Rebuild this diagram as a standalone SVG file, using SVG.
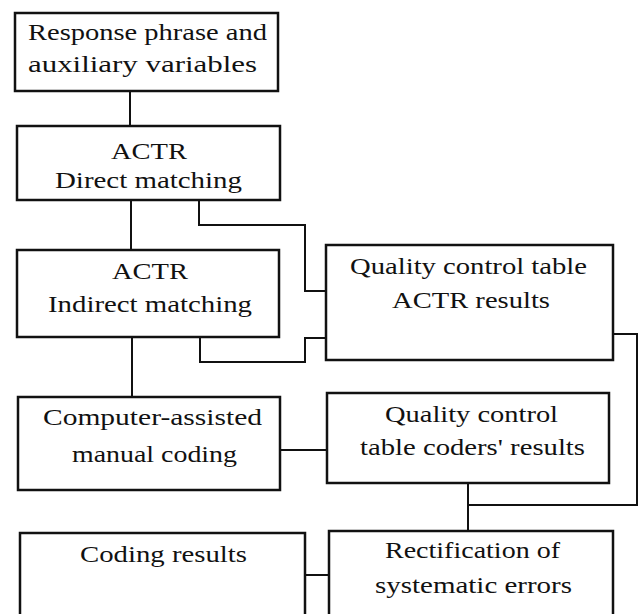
<svg xmlns="http://www.w3.org/2000/svg" width="639" height="614" viewBox="0 0 639 614">
<style>
.box{fill:#fff;stroke:#111;stroke-width:2.5}
.ln{fill:none;stroke:#111;stroke-width:2}
text{font-family:"Liberation Serif","Times New Roman",serif;font-size:24px;fill:#111;text-anchor:middle}
</style>
<rect width="639" height="614" fill="#fff"/>
<g id="connectors">
<path class="ln" d="M130 91V126"/>
<path class="ln" d="M131 200V250"/>
<path class="ln" d="M199 200V225H305V291H326"/>
<path class="ln" d="M200 337V362H305V338H326"/>
<path class="ln" d="M613 334H637V505H468"/>
<path class="ln" d="M132 337V397"/>
<path class="ln" d="M280 450H327"/>
<path class="ln" d="M468 483V531"/>
<path class="ln" d="M305 575H329"/>
</g>
<g id="n1"><rect class="box" x="15" y="13" width="263" height="78"/>
<text x="147.5" y="40" textLength="239" lengthAdjust="spacingAndGlyphs">Response phrase and</text>
<text x="142.5" y="72" textLength="229" lengthAdjust="spacingAndGlyphs">auxiliary variables</text></g>
<g id="n2"><rect class="box" x="17" y="126" width="263" height="74"/>
<text x="149" y="159" textLength="76" lengthAdjust="spacingAndGlyphs">ACTR</text>
<text x="148.5" y="188" textLength="187" lengthAdjust="spacingAndGlyphs">Direct matching</text></g>
<g id="n3"><rect class="box" x="17" y="250" width="262" height="87"/>
<text x="150" y="279" textLength="76" lengthAdjust="spacingAndGlyphs">ACTR</text>
<text x="150" y="312" textLength="204" lengthAdjust="spacingAndGlyphs">Indirect matching</text></g>
<g id="n4"><rect class="box" x="326" y="245" width="287" height="115"/>
<text x="468.5" y="274" textLength="237" lengthAdjust="spacingAndGlyphs">Quality  control table</text>
<text x="471" y="308" textLength="158" lengthAdjust="spacingAndGlyphs">ACTR results</text></g>
<g id="n5"><rect class="box" x="327" y="393" width="282" height="90"/>
<text x="471.5" y="422" textLength="173" lengthAdjust="spacingAndGlyphs">Quality control</text>
<text x="472.5" y="455" textLength="225" lengthAdjust="spacingAndGlyphs">table coders' results</text></g>
<g id="n6"><rect class="box" x="18" y="397" width="262" height="93"/>
<text x="152.5" y="425" textLength="219" lengthAdjust="spacingAndGlyphs">Computer-assisted</text>
<text x="154.5" y="462" textLength="165" lengthAdjust="spacingAndGlyphs">manual coding</text></g>
<g id="n7"><rect class="box" x="329" y="531" width="284" height="95"/>
<text x="472.5" y="558" textLength="175" lengthAdjust="spacingAndGlyphs">Rectification of</text>
<text x="473.5" y="593" textLength="197" lengthAdjust="spacingAndGlyphs">systematic errors</text></g>
<g id="n8"><rect class="box" x="20" y="533" width="285" height="95"/>
<text x="163.5" y="562" textLength="167" lengthAdjust="spacingAndGlyphs">Coding results</text></g>
</svg>
